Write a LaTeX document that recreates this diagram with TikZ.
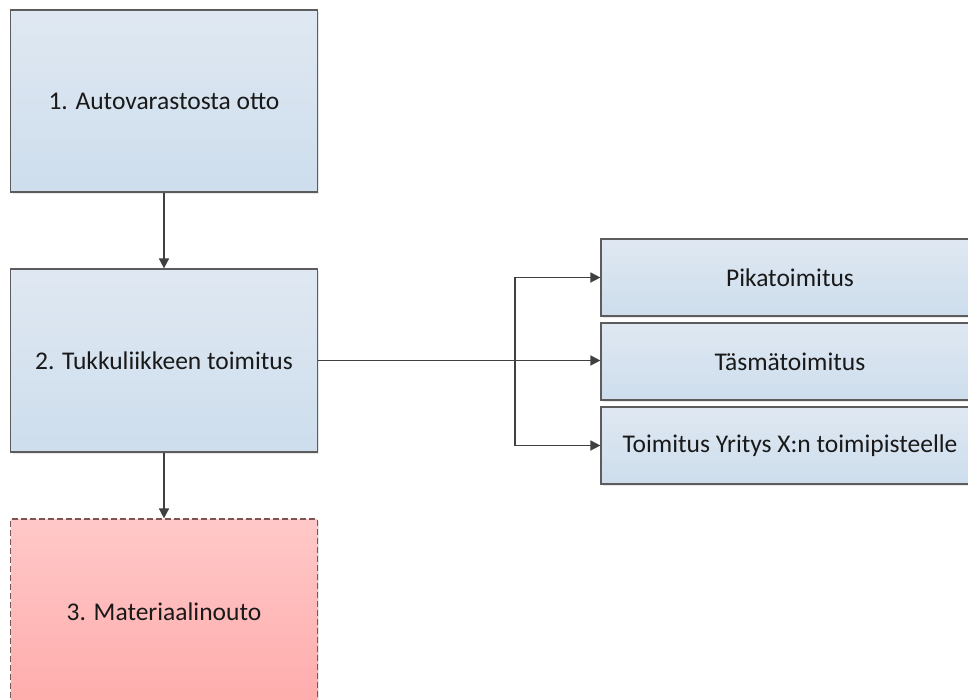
\documentclass[tikz,border=0pt]{standalone}
\usepackage{fontspec}
\setmainfont{Carlito}
\usetikzlibrary{arrows.meta,shadows}

\definecolor{bluetop}{RGB}{223,232,242}
\definecolor{bluebot}{RGB}{198,217,234}
\definecolor{redtop}{RGB}{255,200,200}
\definecolor{redbot}{RGB}{255,172,172}
\definecolor{edge}{RGB}{92,92,92}
\definecolor{redge}{RGB}{125,85,85}
\definecolor{ink}{RGB}{25,25,25}
\definecolor{wire}{RGB}{64,64,64}

\tikzset{
  procbox/.style={draw=edge, line width=1.2pt, rectangle, inner sep=0pt,
    top color=bluetop, bottom color=bluetop!30!bluebot, text=ink,
    font=\fontsize{25.5}{30}\selectfont,
    drop shadow={opacity=0.18, shadow xshift=2pt, shadow yshift=-2pt}},
  optbox/.style={procbox, minimum width=378pt, minimum height=77pt},
  pickbox/.style={procbox, draw=redge, dash pattern=on 6pt off 3pt,
    top color=redtop, bottom color=redbot},
  conn/.style={draw=wire, line width=1.6pt,
    -{Triangle[length=10pt,width=10pt]}}
}

\begin{document}
\begin{tikzpicture}[x=1pt,y=-1pt]
  \useasboundingbox (0,0) rectangle (968,700);
  \clip (0,0) rectangle (968,700);
  \fill[white] (0,0) rectangle (968,700);

  % main sequence
  \node[procbox, minimum width=306.5pt, minimum height=182pt] (b1) at (164,101) {1. Autovarastosta otto};
  \node[procbox, minimum width=306.5pt, minimum height=183pt] (b2) at (164,360.5) {2. Tukkuliikkeen toimitus};
  \node[pickbox, minimum width=306.5pt, minimum height=186pt] (b3) at (164,612) {3. Materiaalinouto};

  % delivery options
  \node[optbox] (r1) at (790,277.5) {Pikatoimitus};
  \node[optbox] (r2) at (790,361.5) {Täsmätoimitus};
  \node[optbox] (r3) at (790,445.5) {Toimitus Yritys X:n toimipisteelle};

  % connectors
  \draw[conn] (b1) -- (b2);
  \draw[conn] (b2) -- (b3);
  \draw[conn] (b2.east) -- (b2.east -| r2.west);
  \coordinate (j) at (515,361);
  \draw[conn] (j) |- (r1.west);
  \draw[conn] (j) |- (r3.west);
\end{tikzpicture}
\end{document}
